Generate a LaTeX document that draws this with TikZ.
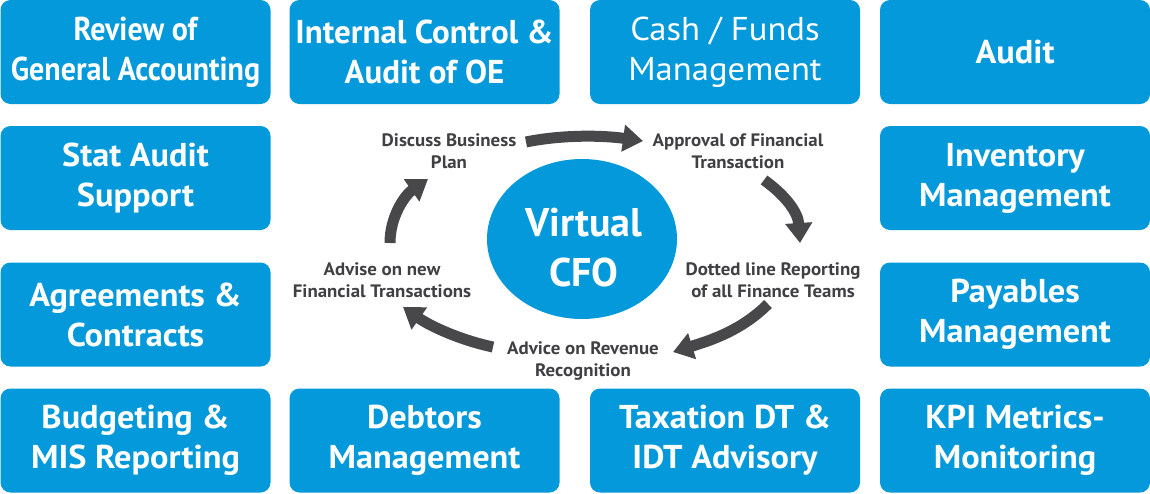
\documentclass[tikz,border=0pt]{standalone}
\usepackage{fontspec}
\setmainfont{PT Sans}
\newfontfamily\boxfont{PT Sans}[FakeStretch=1.04]
\newfontfamily\tightfont{PT Sans}[FakeStretch=0.91]
\newfontfamily\notefont{PT Sans}[FakeStretch=1.05]
\usetikzlibrary{arrows.meta,shapes.geometric}
\definecolor{cfoblue}{HTML}{0399DA}
\definecolor{cfogrey}{HTML}{404042}
\definecolor{arrowgrey}{HTML}{48484A}

\begin{document}
\begin{tikzpicture}[x=1pt,y=-1pt,
    task/.style={fill=cfoblue,rounded corners=10pt,minimum width=270pt,
        minimum height=104pt,inner sep=0pt,text=white,align=center,
        font={\boxfont\fontsize{33}{40}\selectfont\bfseries}},
    hub/.style={ellipse,fill=cfoblue,minimum width=190pt,minimum height=160pt,
        inner sep=0pt},
    hubtext/.style={text=white,align=center,inner sep=0pt,
        font={\fontsize{40}{50}\selectfont\bfseries}},
    note/.style={text=cfogrey,align=center,inner sep=0pt,
        font={\notefont\fontsize{18}{22}\selectfont\bfseries}},
    flow/.style={arrowgrey,line width=11pt,-{Triangle[width=26pt,length=20pt]}}]

\useasboundingbox (0,0) rectangle (1150,493);

% service boxes
\node[task,font={\tightfont\fontsize{33}{40}\selectfont\bfseries}] (review) at (135.5,52) {Review of\\General Accounting};
\node[task,font={\fontsize{33}{40}\selectfont\bfseries}] (control) at (424.5,52) {Internal Control \&\\Audit of OE};
\node[task,font={\notefont\fontsize{33}{40}\selectfont}] (cash) at (725,52) {Cash / Funds\\Management};
\node[task] (audit) at (1015,52) {Audit};

\node[task] (stat) at (135.5,178) {Stat Audit\\Support};
\node[task] (inventory) at (1015,178) {Inventory\\Management};

\node[task] (agree) at (135.5,314.5) {Agreements \&\\Contracts};
\node[task] (payables) at (1015,314.5) {Payables\\Management};

\node[task] (budget) at (135.5,440.5) {Budgeting \&\\MIS Reporting};
\node[task] (debtors) at (424.5,440.5) {Debtors\\Management};
\node[task] (tax) at (725,440.5) {Taxation DT \&\\IDT Advisory};
\node[task] (kpi) at (1015,440.5) {KPI Metrics-\\Monitoring};

% centre
\node[hub] (cfo) at (582,239) {};
\node[hubtext] (cfotext) at (584,248) {Virtual\\CFO};

\node[note] (discuss) at (449,151) {Discuss Business\\Plan};
\node[note] (approve) at (738,151) {Approval of Financial\\Transaction};
\node[note] (dotted) at (773,280) {Dotted line Reporting\\of all Finance Teams};
\node[note] (revenue) at (583,361) {Advice on Revenue\\Recognition};
\node[note] (advise) at (382,280) {Advise on new\\Financial Transactions};

% cycle
\coordinate (a1s) at (526,142); \coordinate (a1e) at (643,141);
\coordinate (a2s) at (764,180); \coordinate (a2e) at (800,243);
\coordinate (a3s) at (768,304); \coordinate (a3e) at (673,352);
\coordinate (a4s) at (493,347); \coordinate (a4e) at (403,307);
\coordinate (a5s) at (390,243); \coordinate (a5e) at (428,179);

\draw[flow] (a1s) .. controls (560,135) and (600,135) .. (a1e);
\draw[flow] (a2s) .. controls (785,195) and (798,212) .. (a2e);
\draw[flow] (a3s) .. controls (742,330) and (712,340) .. (a3e);
\draw[flow] (a4s) .. controls (460,340) and (430,326) .. (a4e);
\draw[flow] (a5s) .. controls (390,216) and (405,195) .. (a5e);

\end{tikzpicture}
\end{document}
